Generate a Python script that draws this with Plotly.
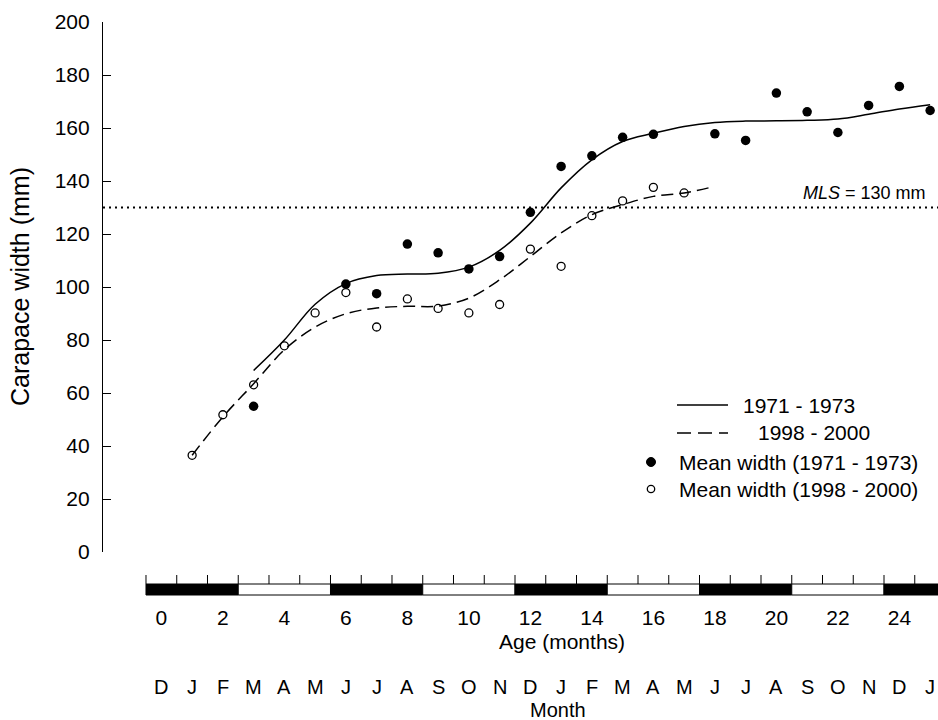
import plotly.graph_objects as go

# ---------------- data ----------------
ages_7173 = [3, 6, 7, 8, 9, 10, 11, 12, 13, 14, 15, 16, 18, 19, 20, 21, 22, 23, 24, 25]
mean_7173 = [55.0, 101.1, 97.5, 116.2, 112.9, 106.8, 111.5, 128.2, 145.5, 149.5,
             156.5, 157.6, 157.8, 155.3, 173.2, 166.1, 158.3, 168.5, 175.7, 166.6]

ages_9800 = [1, 2, 3, 4, 5, 6, 7, 8, 9, 10, 11, 12, 13, 14, 15, 16, 17]
mean_9800 = [36.5, 51.8, 63.1, 77.8, 90.2, 97.9, 84.9, 95.5, 91.9, 90.2, 93.4,
             114.3, 107.8, 126.9, 132.5, 137.6, 135.5]

curve_ages_7173 = [3, 4, 5, 6, 7, 8, 9, 10, 11, 12, 13, 14, 15, 16, 17, 18, 19, 20, 21, 22, 23, 24, 25]
curve_7173 = [68.5, 80.0, 93.5, 101.3, 104.3, 104.9, 105.2, 107.5, 113.8, 124.1, 137.4, 148.0,
              154.9, 158.0, 160.6, 162.1, 162.6, 162.7, 162.9, 163.4, 165.2, 167.2, 168.8]

curve_ages_9800 = [1, 2, 3, 4, 5, 6, 7, 8, 9, 10, 11, 12, 13, 14, 15, 16, 17, 17.9]
curve_9800 = [36.5, 51.0, 63.5, 76.3, 84.9, 89.9, 92.1, 92.7, 92.8, 95.8, 102.7, 111.5,
              120.4, 127.3, 131.1, 134.2, 135.5, 137.7]

MLS = 130

age_ticks = list(range(0, 25, 2))
month_ages = list(range(0, 26))
month_letters = ["D", "J", "F", "M", "A", "M", "J", "J", "A", "S", "O", "N",
                 "D", "J", "F", "M", "A", "M", "J", "J", "A", "S", "O", "N", "D", "J"]
# seasons (3-month blocks) as age boundaries, alternating dark / light
season_edges = [-0.5, 2.5, 5.5, 8.5, 11.5, 14.5, 17.5, 20.5, 23.5, 26.5]
season_dark = [True, False, True, False, True, False, True, False, True]

# ---------------- layout helpers ----------------
W, H = 938, 720
L, R, T, B = 103, 0, 22, 168
PW, PH = W - L - R, H - T - B
FONT = "Liberation Sans, Arial, sans-serif"


def px_x(px):
    return (px - L) / PW


def px_y(py):
    return (H - B - py) / PH


fig = go.Figure()

fig.add_trace(go.Scatter(x=curve_ages_7173, y=curve_7173, mode="lines",
                         line=dict(color="black", width=1.5, shape="spline", smoothing=1.0),
                         showlegend=False, hoverinfo="skip"))
fig.add_trace(go.Scatter(x=curve_ages_9800, y=curve_9800, mode="lines",
                         line=dict(color="black", width=1.5, shape="spline", smoothing=1.0,
                                   dash="12px,6px"),
                         showlegend=False, hoverinfo="skip"))
fig.add_trace(go.Scatter(x=ages_7173, y=mean_7173, mode="markers",
                         marker=dict(symbol="circle", size=9.5, color="black"),
                         showlegend=False))
fig.add_trace(go.Scatter(x=ages_9800, y=mean_9800, mode="markers",
                         marker=dict(symbol="circle-open", size=8, color="black",
                                     line=dict(width=1.3, color="black")),
                         showlegend=False))

shapes = []
# MLS line
shapes.append(dict(type="line", xref="paper", x0=0, x1=1, yref="y", y0=MLS, y1=MLS,
                   line=dict(color="black", width=2, dash="2px,4px")))

# season strip
sy0, sy1 = px_y(595), px_y(584)
for i, dark in enumerate(season_dark):
    shapes.append(dict(type="rect", xref="x", yref="paper",
                       x0=season_edges[i], x1=season_edges[i + 1], y0=sy0, y1=sy1,
                       fillcolor="black" if dark else "white",
                       line=dict(color="black", width=1)))
# month boundary ticks
for m in range(0, 26):
    shapes.append(dict(type="line", xref="x", yref="paper",
                       x0=m - 0.5, x1=m - 0.5, y0=sy1, y1=px_y(575),
                       line=dict(color="black", width=1)))

# custom legend
shapes.append(dict(type="line", xref="paper", yref="paper",
                   x0=px_x(677), x1=px_x(728), y0=px_y(405), y1=px_y(405),
                   line=dict(color="black", width=1.5)))
shapes.append(dict(type="line", xref="paper", yref="paper",
                   x0=px_x(677), x1=px_x(728), y0=px_y(433), y1=px_y(433),
                   line=dict(color="black", width=1.5, dash="14px,7px")))
shapes.append(dict(type="circle", xref="paper", yref="paper",
                   xsizemode="pixel", ysizemode="pixel",
                   xanchor=px_x(651), yanchor=px_y(462),
                   x0=-4.5, x1=4.5, y0=-4.5, y1=4.5,
                   fillcolor="black", line=dict(color="black", width=1)))
shapes.append(dict(type="circle", xref="paper", yref="paper",
                   xsizemode="pixel", ysizemode="pixel",
                   xanchor=px_x(651), yanchor=px_y(489),
                   x0=-3.7, x1=3.7, y0=-3.7, y1=3.7,
                   fillcolor="white", line=dict(color="black", width=1.3)))

annotations = []
leg_font = dict(family=FONT, size=21, color="black")
for txt, x, y in [("1971 - 1973", 741, 405), ("1998 - 2000", 756, 433),
                  ("Mean width (1971 - 1973)", 677, 462),
                  ("Mean width (1998 - 2000)", 677, 489)]:
    annotations.append(dict(text=txt, xref="paper", yref="paper", x=px_x(x), y=px_y(y),
                            xanchor="left", yanchor="middle", showarrow=False,
                            font=leg_font))

annotations.append(dict(text="<i>MLS</i> = 130 mm", xref="paper", yref="y",
                        x=px_x(928), y=MLS, xanchor="right", yanchor="bottom",
                        yshift=3, showarrow=False,
                        font=dict(family=FONT, size=18, color="black")))

for a, lt in zip(month_ages, month_letters):
    annotations.append(dict(text=lt, xref="x", yref="paper", x=a, y=px_y(687),
                            xanchor="center", yanchor="middle", showarrow=False,
                            font=dict(family=FONT, size=20, color="black")))

annotations.append(dict(text="Age (months)", xref="paper", yref="paper",
                        x=px_x(562), y=px_y(641), xanchor="center", yanchor="middle",
                        showarrow=False, font=dict(family=FONT, size=21, color="black")))
annotations.append(dict(text="Month", xref="paper", yref="paper",
                        x=px_x(558), y=px_y(709.5), xanchor="center", yanchor="middle",
                        showarrow=False, font=dict(family=FONT, size=20, color="black")))
annotations.append(dict(text="Carapace width (mm)", xref="paper", yref="paper",
                        x=px_x(20), y=px_y(287), xanchor="center", yanchor="middle",
                        textangle=-90, showarrow=False,
                        font=dict(family=FONT, size=25, color="black")))

fig.update_layout(
    width=W, height=H,
    margin=dict(l=L, r=R, t=T, b=B, pad=0),
    paper_bgcolor="white", plot_bgcolor="white",
    font=dict(family=FONT, size=21, color="black"),
    showlegend=False,
    shapes=shapes,
    annotations=annotations,
    xaxis=dict(range=[-1.898, 25.256], showgrid=False, zeroline=False, showline=False,
               ticks="", tickvals=age_ticks, ticktext=[str(v) for v in age_ticks],
               tickfont=dict(family=FONT, size=21, color="black"),
               ticklabelstandoff=51),
    yaxis=dict(range=[0, 200], showgrid=False, zeroline=False, showline=True,
               linecolor="black", linewidth=1.2, ticks="inside", ticklen=8,
               tickcolor="black", tickwidth=1.2,
               tickvals=list(range(0, 201, 20)),
               tickfont=dict(family=FONT, size=21, color="black"),
               ticklabelstandoff=8),
)

fig.write_html("out.html")
